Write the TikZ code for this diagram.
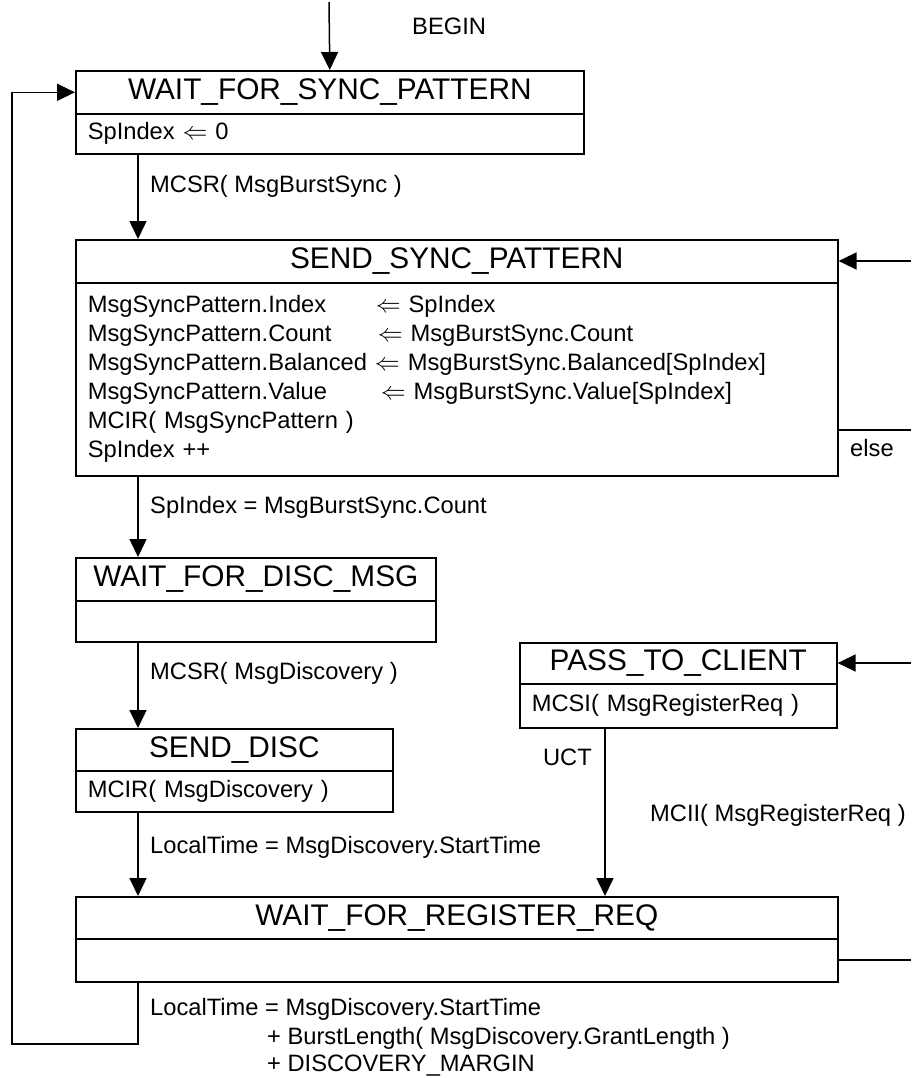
\documentclass[tikz,border=0pt]{standalone}
\usepackage{fontspec}
\setmainfont{Liberation Sans}
\usetikzlibrary{arrows.meta}
\newcommand{\bodyFont}{\fontsize{23.7}{29}\selectfont}
\newcommand{\titleFont}{\fontsize{29.8}{34}\selectfont}
\newcommand{\assignTo}[3][288pt]{\makebox[#1][l]{#2}$\Leftarrow$ #3}
\tikzset{
  state title/.style={draw, line width=1.6pt, anchor=north west, minimum height=43pt,
    inner xsep=12pt, inner ysep=0pt, font=\titleFont, align=center},
  state body/.style={draw, line width=1.6pt, anchor=north west,
    inner xsep=12pt, inner ysep=0pt, font=\bodyFont, align=left},
  trans/.style={line width=1.5pt, -{Triangle[length=18pt,width=17pt]}},
  link/.style={line width=1.5pt},
  guard/.style={font=\bodyFont, inner sep=0pt, anchor=west, align=left,
    text height=17pt, text depth=5pt},
}

\begin{document}
\begin{tikzpicture}[x=1pt,y=-1pt]
\useasboundingbox (0,0) rectangle (911,1078);
% states
\node[state title, minimum width=508pt] (wfsp) at (75,70) {WAIT\_FOR\_SYNC\_PATTERN};
\node[state body, text width=484pt, minimum height=40pt] (wfsp-body) at (75,113) {SpIndex $\Leftarrow$ 0};
\node[state title, minimum width=762pt] (ssp) at (75,239) {SEND\_SYNC\_PATTERN};
\node[state body, text width=738pt, minimum height=193pt] (ssp-body) at (75,282) {%
\assignTo{MsgSyncPattern.Index}{SpIndex}\\
\assignTo[290pt]{MsgSyncPattern.Count}{MsgBurstSync.Count}\\
MsgSyncPattern.Balanced $\Leftarrow$ MsgBurstSync.Balanced[SpIndex]\\
\assignTo[293pt]{MsgSyncPattern.Value}{MsgBurstSync.Value[SpIndex]}\\
MCIR( MsgSyncPattern )\\
SpIndex ++};
\node[state title, minimum width=360pt] (wfdm) at (75,557) {WAIT\_FOR\_DISC\_MSG};
\node[state body, text width=336pt, minimum height=41pt] (wfdm-body) at (75,600) {};
\node[state title, minimum width=317pt, minimum height=42pt] (sd) at (75,728) {SEND\_DISC};
\node[state body, text width=293pt, minimum height=41pt] (sd-body) at (75,770) {MCIR( MsgDiscovery )};
\node[state title, minimum width=317pt, minimum height=41pt] (ptc) at (519,642) {PASS\_TO\_CLIENT};
\node[state body, text width=293pt, minimum height=44pt] (ptc-body) at (519,683) {MCSI( MsgRegisterReq )};
\node[state title, minimum width=762pt, minimum height=42pt] (wfrr) at (75,896) {WAIT\_FOR\_REGISTER\_REQ};
\node[state body, text width=738pt, minimum height=43pt] (wfrr-body) at (75,938) {};

% free ends
\coordinate (start) at (329,2);
\coordinate (in-ssp) at (911,261);
\coordinate (out-ssp) at (911,430);
\coordinate (in-ptc) at (911,663);
\coordinate (out-wfrr) at (911,960);
\coordinate (loop) at (12,1044);
\path ([xshift=63pt]wfsp-body.south west) coordinate (c1)
      ([xshift=63pt]ssp-body.south west) coordinate (c2)
      ([xshift=63pt]wfdm-body.south west) coordinate (c3)
      ([xshift=63pt]sd-body.south west) coordinate (c4)
      ([xshift=63pt]wfrr-body.south west) coordinate (c5)
      ([xshift=86pt]ptc-body.south west) coordinate (c6);

% transitions
\draw[trans] (start) -- (wfsp.north);
\draw[trans] (c1) -- (c1 |- ssp.north);
\draw[trans] (c2) -- (c2 |- wfdm.north);
\draw[trans] (c3) -- (c3 |- sd.north);
\draw[trans] (c4) -- (c4 |- wfrr.north);
\draw[trans] (c6) -- (c6 |- wfrr.north);
\draw[trans] (c5) |- (loop) |- (wfsp.west);
\draw[trans] (in-ssp) -- (in-ssp -| ssp.east);
\draw[link] (out-ssp -| ssp-body.east) -- (out-ssp);
\draw[trans] (in-ptc) -- (in-ptc -| ptc.east);
\draw[link] (out-wfrr -| wfrr-body.east) -- (out-wfrr);

% guards
\node[guard] (l-begin) at (412,29) {BEGIN};
\node[guard] (l-sync) at (150,187) {MCSR( MsgBurstSync )};
\node[guard] (l-else) at (850,450) {else};
\node[guard] (l-count) at (150,507) {SpIndex = MsgBurstSync.Count};
\node[guard] (l-disc) at (150,673) {MCSR( MsgDiscovery )};
\node[guard, anchor=east] (l-uct) at (592,759) {UCT};
\node[guard] (l-mcii) at (650,815) {MCII( MsgRegisterReq )};
\node[guard] (l-start) at (150,847) {LocalTime = MsgDiscovery.StartTime};
\node[guard] (l-end1) at (150,1009) {LocalTime = MsgDiscovery.StartTime};
\node[guard] (l-end2) at (267,1038) {+ BurstLength( MsgDiscovery.GrantLength )};
\node[guard] (l-end3) at (267,1065) {+ DISCOVERY\_MARGIN};
\end{tikzpicture}
\end{document}
